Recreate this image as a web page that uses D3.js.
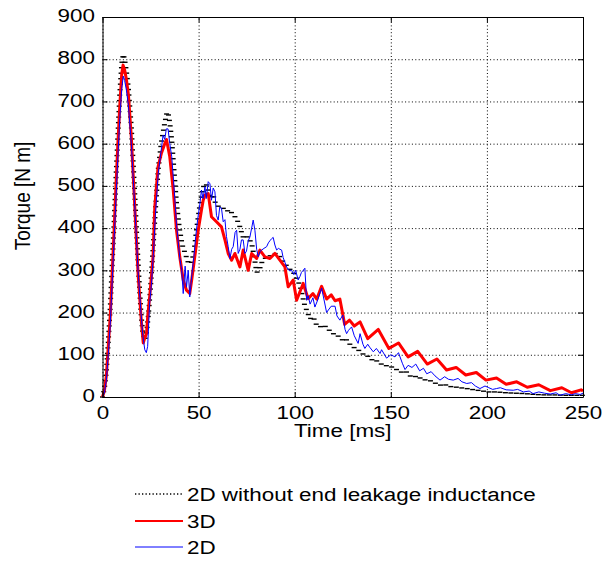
<!DOCTYPE html>
<html><head><meta charset="utf-8">
<script src="https://cdn.jsdelivr.net/npm/d3@7"></script>
<style>
body{margin:0;background:#fff;}
svg{display:block;font-family:"Liberation Sans",Arial,sans-serif;}
</style></head><body>
<svg id="chart" width="614" height="567"></svg>
<script>
// ---- data ----
const xTicks = [0, 50, 100, 150, 200, 250];
const yTicks = [0, 100, 200, 300, 400, 500, 600, 700, 800, 900];
const legendLabels = ["2D without end leakage inductance", "3D", "2D"];

// 2D without end leakage inductance (black dotted)
const tNoEnd = [0,1,2,3,4,5,6,7,8,9,10,10.8,11.5,12.5,13.5,15,16.8,18.5,20,21,22,23,24,25,26,27.5,29,30.5,32,33.3,34.1,35,36,37,38.5,40,41.5,43,44.5,46,47.5,49,50.5,52,53.3,54.5,56,57.5,59,61,62.8,64.5,66.3,68,69.5,71.5,73,74.1,75.5,77.6,79,80.2,81.5,83,85,88,90,92.3,94,96,98,99.5,101,102.7,104,105.3,106.2,107.9,109.6,111.4,113.1,115,116.6,118,120,121.8,123.5,125.2,126.5,128.7,130.4,132,134,136.5,138.5,140.9,142.5,144.4,146,148,151.3,154,156,158,160,161.7,164,166,168.7,171,173,175.6,178,180,183,186,189.5,192,195,198,200,205,210,215,220,225,230,235,240,245,250];
const torqueNoEnd = [0,20,60,130,210,310,410,520,620,720,790,812,800,770,730,640,480,320,200,150,135,155,200,260,330,440,540,600,640,670,675,650,610,550,460,400,360,340,320,315,340,400,450,490,506,500,470,480,455,450,447,440,443,430,425,403,380,375,380,364,330,295,300,320,330,336,340,332,320,310,300,293,280,265,240,215,206,185,190,170,166,170,165,158,150,148,140,134,138,125,118,115,108,98,96,85,86,80,75,74,70,62,58,60,50,47,50,42,40,38,33,28,30,25,24,22,20,18,16,14,12,12,10,9,8,6,5,5,4,4,4];

// 3D (red)
const t3D = [0,1,2,3,4,5,6,7,8,9,10,10.7,11.5,12.5,13.5,15,16.8,18.5,20.3,21.2,22,22.9,23.5,24.6,26.3,27.2,28.9,30.7,32.4,33.3,35,36.8,38.5,40.2,42,43.7,45.4,46.5,48,49.8,51.5,52.4,53.3,55,56.7,59.3,61.9,63.7,65.4,67.2,68.9,71.5,73.2,75.8,77.6,80.2,81.9,84.5,87.1,89.7,92.3,94.9,96.6,99.2,101,104.4,107,109.5,111.5,114,116.6,119,121,123.5,126,128.5,131,134,138,143.5,149,154,159,164,169,174,179,184,189,194.5,199.5,205,210,215.5,221,227,233,239,244,249,250];
const torque3D = [0,15,50,120,190,290,390,500,600,690,765,786,775,750,715,615,450,292,174,128,140,150,190,240,332,450,545,578,600,610,569,490,395,332,277,253,245,280,332,395,443,466,478,482,427,415,403,372,340,324,340,308,348,300,340,328,348,332,328,340,324,308,261,277,229,269,233,245,232,262,232,242,228,232,172,182,168,178,138,160,115,128,95,108,78,90,64,70,52,58,40,45,30,36,23,29,15,22,10,17,14];

// 2D (blue)
const t2D = [0,1,2,3,4,5,6,7,8,9,10,10.8,11.5,12.5,13.5,15,16.8,18.5,20,21,22,22.8,23.5,24.5,25.5,26.5,27.5,29,30.7,31.5,32.4,33.2,34.1,35,36,37,38.5,40.2,41.2,42,43,43.7,44.6,45.4,46.5,47.5,48.5,49.5,50.6,51.5,52.3,53.3,54,55,55.9,56.7,57.6,58.5,59.3,60.2,61,61.9,62.8,63.7,64.5,65.4,66.3,67.2,68,69,69.8,70.6,71.5,72.3,73.2,74.1,74.9,75.8,76.7,77.6,78.4,79.3,80.2,81,82,82.8,84,85.4,86.3,87.1,88,88.8,89.7,90.6,91.5,92.3,93.2,94,95,95.8,97,98.4,99.5,100.5,101.8,102.7,103.5,104.4,105.3,106.2,107,108,109.5,110.5,112,114,115.5,116.6,117.5,119,121,122,123.5,125,126.2,127,128,129.6,131,133,134,135.5,136.5,138,139,140.9,142.5,144.4,145.2,147.8,150,152.2,154,156,157.4,159,161,163,165,167,168.7,171,173,175.6,178,180,182.5,185,187,189.5,192,194,196.4,199,201,203,205,207,210,213.7,216,219,222,224,227,230,233,236,238,241,244,246,248.5,250];
const torque2D = [0,10,40,100,170,270,370,470,570,660,730,760,750,725,690,600,450,300,200,145,112,105,120,220,270,340,430,530,590,620,610,635,635,600,570,510,410,330,300,245,310,260,300,237,290,330,380,420,455,490,470,498,470,510,505,466,495,486,430,419,450,447,415,420,380,356,328,350,356,390,395,340,350,372,372,340,345,370,379,400,419,395,350,332,345,348,352,356,365,370,375,378,360,348,352,350,348,330,318,308,300,300,290,300,277,285,295,300,305,229,240,220,235,213,230,258,225,200,206,215,215,192,182,194,160,150,158,166,145,127,150,125,115,125,118,107,115,103,112,92,100,95,105,80,65,75,70,78,62,68,55,60,50,40,48,42,40,44,36,32,34,26,20,26,22,18,20,22,17,16,18,12,14,8,12,9,7,10,4,8,5,8,6,9];

// ---- layout ----
const W = 614, H = 567;
const M = {left: 102.5, right: 583, top: 17, bottom: 397};
const SX = 1.18;          // the reference text is slightly stretched horizontally
const FONT = 19;

const svg = d3.select("#chart");
svg.append("rect").attr("width", W).attr("height", H).attr("fill", "#fff");

const x = d3.scaleLinear().domain([0, 250]).range([M.left, M.right]);
const y = d3.scaleLinear().domain([0, 900]).range([M.bottom, M.top]);

// grid (dotted)
const grid = svg.append("g");
grid.append("g").attr("transform", `translate(0,${M.bottom})`)
  .call(d3.axisBottom(x).tickValues(xTicks).tickSize(-(M.bottom - M.top)).tickFormat(""));
grid.append("g").attr("transform", `translate(${M.left},0)`)
  .call(d3.axisLeft(y).tickValues(yTicks).tickSize(-(M.right - M.left)).tickFormat(""));
grid.selectAll(".domain").remove();
grid.selectAll("line").attr("stroke", "#000").attr("stroke-width", 1).attr("stroke-dasharray", "1,2.4");

// data
const line = d3.line().x(d => x(d[0])).y(d => y(d[1]));
const plot = svg.append("g");
const black = plot.append("path").datum(d3.zip(tNoEnd, torqueNoEnd))
  .attr("d", line).attr("fill", "none").attr("stroke", "none");
// the reference shows this dotted curve as short horizontal marks along it
const len = black.node().getTotalLength();
const marks = d3.range(0, len, 5.5).map(l => black.node().getPointAtLength(l));
plot.append("g").selectAll("line").data(marks).join("line")
  .attr("x1", p => p.x - 2.5).attr("x2", p => p.x + 2.5)
  .attr("y1", p => p.y).attr("y2", p => p.y)
  .attr("stroke", "#000").attr("stroke-width", 1.4);

plot.append("path").datum(d3.zip(t3D, torque3D))
  .attr("d", line).attr("fill", "none").attr("stroke", "#ff0000")
  .attr("stroke-width", 3).attr("stroke-linejoin", "round");
plot.append("path").datum(d3.zip(t2D, torque2D))
  .attr("d", line).attr("fill", "none").attr("stroke", "#0000ff")
  .attr("stroke-width", 1).attr("stroke-linejoin", "round");

// box + inward ticks
function styleAxis(g){
  g.selectAll(".domain").attr("stroke", "#000").attr("stroke-width", 1);
  g.selectAll(".tick line").attr("stroke", "#000").attr("stroke-width", 1);
  g.selectAll("text").attr("font-size", FONT).attr("font-family", "Liberation Sans, Arial, sans-serif").attr("fill", "#000");
}
const ax = svg.append("g").attr("transform", `translate(0,${M.bottom})`)
  .call(d3.axisBottom(x).tickValues(xTicks).tickSizeInner(-5).tickSizeOuter(0).tickPadding(9));
styleAxis(ax);
ax.selectAll("text").attr("transform", `scale(${SX},1)`);
const axTop = svg.append("g").attr("transform", `translate(0,${M.top})`)
  .call(d3.axisTop(x).tickValues(xTicks).tickSizeInner(-5).tickSizeOuter(0).tickFormat(""));
styleAxis(axTop);
const ay = svg.append("g").attr("transform", `translate(${M.left},0)`)
  .call(d3.axisLeft(y).tickValues(yTicks).tickSizeInner(-5).tickSizeOuter(0).tickPadding(6.4));
styleAxis(ay);
ay.selectAll("text").attr("dy", "0.25em").attr("transform", `scale(${SX},1)`);
const ayR = svg.append("g").attr("transform", `translate(${M.right},0)`)
  .call(d3.axisRight(y).tickValues(yTicks).tickSizeInner(-5).tickSizeOuter(0).tickFormat(""));
styleAxis(ayR);

// axis labels
svg.append("text").attr("transform", `translate(${(M.left + M.right) / 2},437) scale(${SX},1)`)
  .attr("text-anchor", "middle").attr("font-size", FONT).text("Time [ms]");
svg.append("text").attr("transform", `translate(30,196) scale(${SX},1) rotate(-90)`)
  .attr("text-anchor", "middle").attr("font-size", FONT).text("Torque [N m]");

// legend
const legY = [494, 521, 547];
const leg = svg.append("g");
leg.append("line").attr("x1", 135).attr("x2", 183).attr("y1", legY[0]).attr("y2", legY[0])
  .attr("stroke", "#000").attr("stroke-width", 1.3).attr("stroke-dasharray", "1.3,2.2");
leg.append("line").attr("x1", 135).attr("x2", 183).attr("y1", legY[1]).attr("y2", legY[1])
  .attr("stroke", "#ff0000").attr("stroke-width", 2);
leg.append("line").attr("x1", 135).attr("x2", 183).attr("y1", legY[2]).attr("y2", legY[2])
  .attr("stroke", "#0000ff").attr("stroke-width", 1);
leg.selectAll("text").data(legendLabels).join("text")
  .attr("transform", (d, i) => `translate(187,${legY[i] + 7}) scale(${SX},1)`)
  .attr("font-size", FONT).text(d => d);
</script>
</body></html>
